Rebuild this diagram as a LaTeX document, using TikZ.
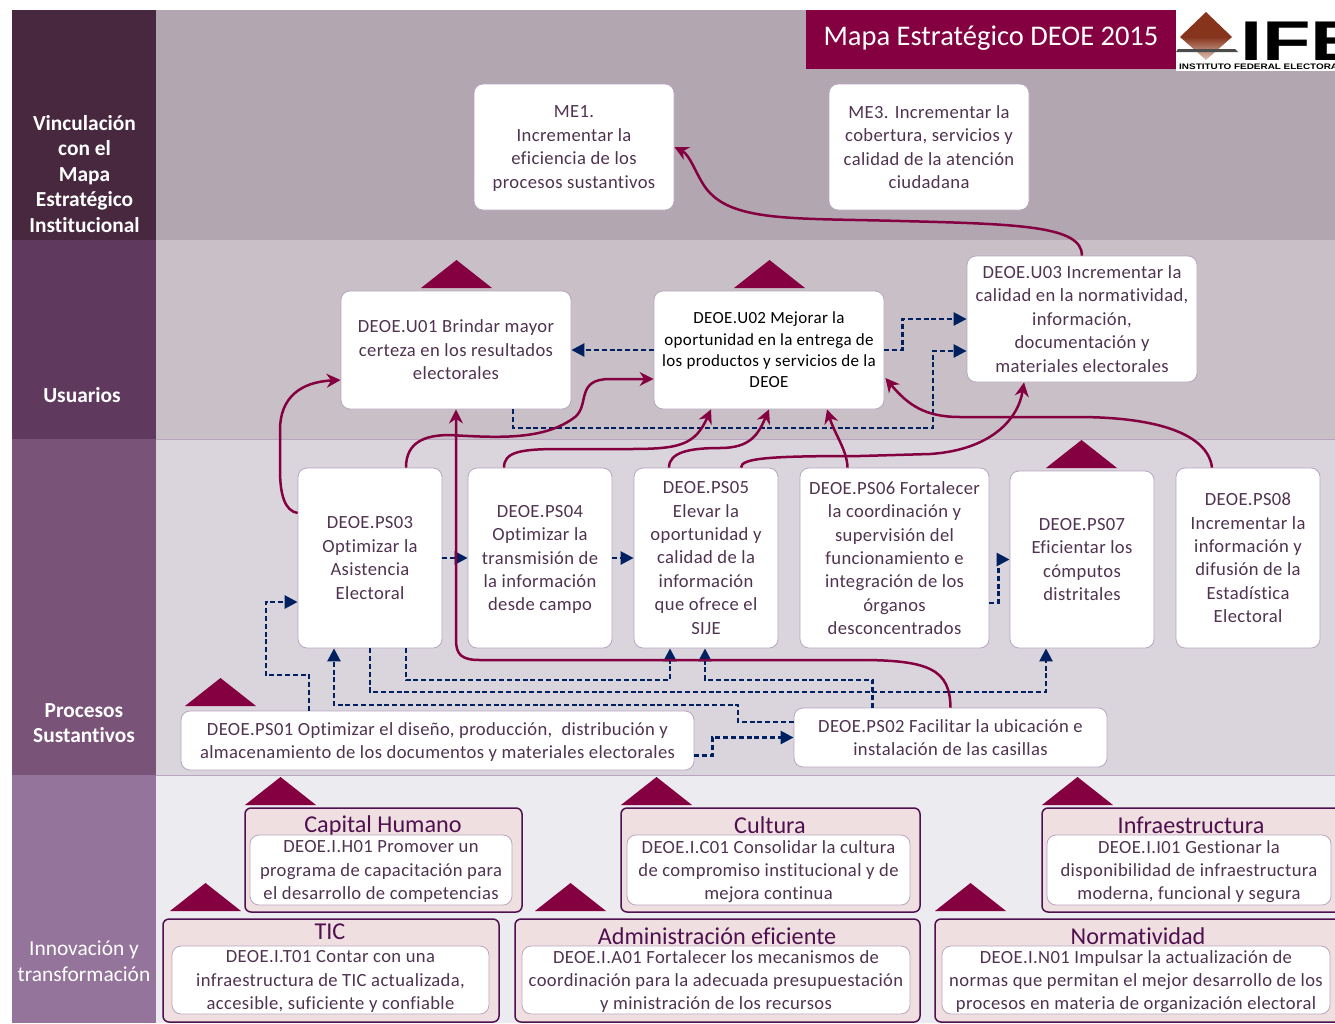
\documentclass[tikz,border=0pt]{standalone}
\usepackage{amsmath}
\usepackage{xcolor}
\usepackage{fontspec}
\setmainfont[Ligatures=NoCommon]{Carlito}
\newfontfamily\boxfont[LetterSpace=2,Ligatures=NoCommon]{Carlito}
\newfontfamily\logofont{Liberation Sans}
\usetikzlibrary{calc,arrows.meta}
\definecolor{color_band_a}{HTML}{b2a6b1}
\definecolor{color_band_b}{HTML}{c8bfc7}
\definecolor{color_band_c}{HTML}{dad4dc}
\definecolor{color_band_d}{HTML}{ecebef}
\definecolor{color_side_a}{HTML}{47283f}
\definecolor{color_side_b}{HTML}{5f3a5e}
\definecolor{color_side_c}{HTML}{7a5379}
\definecolor{color_side_d}{HTML}{94749a}
\definecolor{color_maroon}{HTML}{840040}
\definecolor{color_navy}{HTML}{002060}
\definecolor{color_text}{HTML}{4f3350}
\definecolor{color_border}{HTML}{b8a5c0}
\definecolor{color_group}{HTML}{4f1050}
\definecolor{color_group_fill}{HTML}{efdfe0}
\definecolor{color_logo_a}{HTML}{86351c}
\definecolor{color_logo_b}{HTML}{e0c4b8}
\begin{document}
\begin{tikzpicture}[x=1pt,y=-1pt,
	boxnode/.style={draw=color_border,line width=0.8pt,fill=white,rounded corners=9pt,align=center,text=color_text,inner sep=0pt,font=\boxfont\fontsize{18.6}{23.4}\selectfont},
	groupbox/.style={draw=color_group,line width=1.5pt,fill=color_group_fill,rounded corners=6pt},
	grouptitle/.style={text=color_group,font=\fontsize{24.2}{28}\selectfont},
	sidenode/.style={text=white,align=center,font=\fontsize{21.4}{25.5}\selectfont\bfseries},
	updart/.style={fill=color_maroon},
	maroonline/.style={color_maroon,line width=2.5pt,-{Stealth[length=14pt,width=14pt]}},
	navyline/.style={color_navy,line width=2.6pt,dash pattern=on 5pt off 2.8pt,-{Triangle[length=13pt,width=13pt]}}]
	\useasboundingbox (0,0) rectangle (1335,1023);
	\begin{scope}
	\clip (0,0) rectangle (1335,1023);

	% Bands
	\fill[color_band_a] (156,10) rectangle (1335,240);
	\fill[color_band_b] (156,240) rectangle (1335,439);
	\fill[color_band_c] (156,439) rectangle (1335,775);
	\fill[color_band_d] (156,775) rectangle (1335,1023);
	\draw[color_border,line width=0.8pt]
		(156,439) -- (1335,439)
		(156,775) -- (1335,775)
		;
	\fill[color_side_a] (12,10) rectangle (156,240);
	\fill[color_side_b] (12,240) rectangle (156,439);
	\fill[color_side_c] (12,439) rectangle (156,775);
	\fill[color_side_d] (12,775) rectangle (156,1023);

	% Side labels
	\node[sidenode] (vinc) at (84.5,174) {Vinculación\\con el\\Mapa\\Estratégico\\Institucional};
	\node[sidenode] (usua) at (82,395) {Usuarios};
	\node[sidenode] (proc) at (84,723) {Procesos\\Sustantivos};
	\node[sidenode,font=\fontsize{21.4}{25.5}\selectfont] (inno) at (84,961) {Innovación y\\transformación};

	% Title and logo
	\fill[color_maroon] (806,10) rectangle (1176,69);
	\node[text=white,font=\fontsize{28.5}{32}\selectfont] (title) at (991,38) {Mapa Estratégico DEOE 2015};
	\fill[white] (1176,10) rectangle (1335,71);
	\fill[color_logo_a] (1206,12) -- (1232,37) -- (1180,37) -- cycle;
	\shade[top color=color_logo_a,bottom color=color_logo_b] (1180,37) -- (1232,37) -- (1206,60) -- cycle;
	\fill[black!70] (1178,49) -- (1235,49) -- (1238,52) -- (1176,52) -- cycle;
	\node[anchor=base west,inner sep=0pt,font=\logofont\fontsize{56}{56}\selectfont\bfseries] (ifetext) at (1240,60) {\scalebox{1.42}[1]{IFE}};
	\node[anchor=base west,inner sep=0pt,font=\logofont\fontsize{8}{8}\selectfont\bfseries] (ifename) at (1179,69) {\scalebox{1.24}[1]{INSTITUTO FEDERAL ELECTORAL}};

	% Upper boxes
	\node[boxnode,minimum width=200pt,minimum height=126pt] (me1) at (574,147) {ME1.\\Incrementar la\\eficiencia de los\\\smash[b]{procesos sustantivos}};
	\node[boxnode,minimum width=200pt,minimum height=126pt] (me3) at (929,147) {ME3. Incrementar la\\cobertura, servicios y\\calidad de la atención\\ciudadana};
	\node[boxnode,minimum width=230pt,minimum height=118pt] (u01) at (456,350) {DEOE.U01 Brindar mayor\\certeza en los resultados\\electorales};
	\node[boxnode,minimum width=230pt,minimum height=118pt,text=black,font=\boxfont\fontsize{17}{21.3}\selectfont] (u02) at (769,350) {DEOE.U02 Mejorar la\\oportunidad en la entrega de\\los productos y servicios de la\\DEOE};
	\node[boxnode,minimum width=230pt,minimum height=126pt] (u03) at (1082,319) {DEOE.U03 Incrementar la\\calidad en la normatividad,\\información,\\documentación y\\materiales electorales};

	% Process boxes
	\node[boxnode,minimum width=144pt,minimum height=180pt] (ps03) at (370,558) {DEOE.PS03\\Optimizar la\\Asistencia\\Electoral};
	\node[boxnode,minimum width=144pt,minimum height=180pt] (ps04) at (540,558) {DEOE.PS04\\Optimizar la\\transmisión de\\la información\\\smash[b]{desde campo}};
	\node[boxnode,minimum width=144pt,minimum height=180pt] (ps05) at (706,558) {DEOE.PS05\\Elevar la\\oportunidad y\\calidad de la\\información\\que ofrece el\\SIJE};
	\node[boxnode,minimum width=189pt,minimum height=180pt] (ps06) at (894.5,558) {DEOE.PS06 Fortalecer\\la coordinación y\\supervisión del\\funcionamiento e\\integración de los\\órganos\\desconcentrados};
	\node[boxnode,minimum width=144pt,minimum height=177pt] (ps07) at (1082,559.5) {DEOE.PS07\\Eficientar los\\cómputos\\distritales};
	\node[boxnode,minimum width=144pt,minimum height=180pt] (ps08) at (1248,558) {DEOE.PS08\\Incrementar la\\información y\\difusión de la\\Estadística\\Electoral};
	\node[boxnode,minimum width=513pt,minimum height=59pt] (ps01) at (437.5,740.5) {DEOE.PS01 Optimizar el diseño, producción,\ \ distribución y\\\smash[b]{almacenamiento de los documentos y materiales electorales}};
	\node[boxnode,minimum width=313pt,minimum height=59pt] (ps02) at (950.5,737.5) {DEOE.PS02 Facilitar la ubicación e\\instalación de las casillas};

	% Groups
	\draw[groupbox] (245,808) rectangle (522,912);
	\draw[groupbox] (621,808) rectangle (920,912);
	\draw[groupbox] (1042,808) rectangle (1345,912);
	\draw[groupbox] (163,919) rectangle (499,1022);
	\draw[groupbox] (515,919) rectangle (920,1022);
	\draw[groupbox] (935,919) rectangle (1345,1022);
	\node[grouptitle] (capt) at (383,826) {Capital Humano};
	\node[grouptitle] (cult) at (770,825) {Cultura};
	\node[grouptitle] (infr) at (1191,825) {Infraestructura};
	\node[grouptitle] (tict) at (330,932) {TIC};
	\node[grouptitle] (admt) at (717,936) {Administración eficiente};
	\node[grouptitle] (nort) at (1138,936) {Normatividad};
	\node[boxnode,minimum width=262pt,minimum height=70pt] (ih01) at (381,870) {DEOE.I.H01 Promover un\\programa de capacitación para\\\smash[b]{el desarrollo de competencias}};
	\node[boxnode,minimum width=283pt,minimum height=70pt] (ic01) at (768.5,870) {DEOE.I.C01 Consolidar la cultura\\de compromiso institucional y de\\\smash[b]{mejora continua}};
	\node[boxnode,minimum width=284pt,minimum height=70pt] (ii01) at (1189,870) {DEOE.I.I01 Gestionar la\\disponibilidad de infraestructura\\\smash[b]{moderna, funcional y segura}};
	\node[boxnode,minimum width=317pt,minimum height=68pt] (it01) at (330.5,980) {DEOE.I.T01 Contar con una\\infraestructura de TIC actualizada,\\\smash[b]{accesible, suficiente y confiable}};
	\node[boxnode,minimum width=388pt,minimum height=68pt] (ia01) at (716,980) {DEOE.I.A01 Fortalecer los mecanismos de\\coordinación para la adecuada presupuestación\\\smash[b]{y ministración de los recursos}};
	\node[boxnode,minimum width=388pt,minimum height=68pt] (in01) at (1136,980) {DEOE.I.N01 Impulsar la actualización de\\normas que permitan el mejor desarrollo de los\\\smash[b]{procesos en materia de organización electoral}};

	% Up marks
	\foreach \px/\py in {421/288,734/288,1046/468,185/706,245/805,621/805,1042/805,170/911,535/911,935/911}{
		\fill[updart] (\px,\py) -- ++(35.5,-28) -- ++(35.5,28) -- cycle;
	}

	% Dashed links
	\draw[navyline] (u02.west) -- (u01.east);
	\draw[navyline] (u02.east) -- ++(18,0) |- (u03.west);
	\draw[navyline] ($(u01.south)+(57,0)$) |- (933,428) |- ($(u03.west)+(0,32)$);
	\draw[navyline] (ps03.east) -- (ps04.west);
	\draw[navyline] (ps04.east) -- (ps05.west);
	\draw[navyline] ($(ps06.east)+(0,45)$) -- ++(9,0) |- (ps07.west);
	\draw[navyline] ($(ps01.north)+(-128.5,0)$) |- (266,675) |- ($(ps03.west)+(0,44)$);
	\draw[navyline] ($(ps02.west)+(0,-15.5)$) -| (738,705) -| ($(ps03.south)+(-36,0)$);
	\draw[navyline] (ps03.south) |- (1046,692) -- ($(ps07.south)+(-36,0)$);
	\draw[navyline] ($(ps03.south)+(36,0)$) |- (670,680) -- ($(ps05.south)+(-36,0)$);
	\draw[navyline] ($(ps02.north)+(-78,0)$) |- (705,680) -- ($(ps05.south)+(-1,0)$);
	\draw[navyline] ($(ps01.east)+(0,15)$) -- ++(18,0) |- (ps02.west);

	% Curved links
	\draw[maroonline] (u03.north) .. controls (1082,226) and (1020,224) .. (900,221) .. controls (790,218) and (730,222) .. (705,187) .. controls (695,172) and (690,155) .. (me1.east);
	\draw[maroonline] ($(ps03.west)+(0,-45)$) .. controls (285,511) and (280,495) .. (280,470) -- (280,430) .. controls (280,398) and (300,382) .. ($(u01.west)+(0,30)$);
	\draw[maroonline] ($(ps03.north)+(36,0)$) .. controls (406,442) and (425,435) .. (450,435) .. controls (500,438) and (545,440) .. (575,417) .. controls (590,405) and (575,379) .. (610,379) -- ($(u02.west)+(0,29)$);
	\draw[maroonline] ($(ps04.north)+(-36,0)$) .. controls (504,452) and (520,449) .. (560,449) -- (630,449) .. controls (680,449) and (695,445) .. ($(u02.south)+(-58,0)$);
	\draw[maroonline] ($(ps05.north)+(-37,0)$) .. controls (669,452) and (690,448) .. (720,448) .. controls (750,448) and (758,435) .. (u02.south);
	\draw[maroonline] ($(ps05.north)+(35,0)$) .. controls (741,458) and (770,456) .. (860,456) -- (930,454) .. controls (990,450) and (1018,420) .. ($(u03.south)+(-58,0)$);
	\draw[maroonline] ($(ps06.north)+(-47,0)$) .. controls (847,450) and (835,435) .. ($(u02.south)+(58,0)$);
	\draw[maroonline] ($(ps08.north)+(-36,0)$) .. controls (1208,435) and (1160,417) .. (1077,417) -- (960,417) .. controls (925,417) and (908,405) .. ($(u02.east)+(1,28)$);
	\draw[maroonline] (ps02.north) .. controls (950,670) and (930,660) .. (860,660) -- (480,660) .. controls (462,660) and (456,655) .. (456,640) -- (u01.south);
	\end{scope}
\end{tikzpicture}
\end{document}
